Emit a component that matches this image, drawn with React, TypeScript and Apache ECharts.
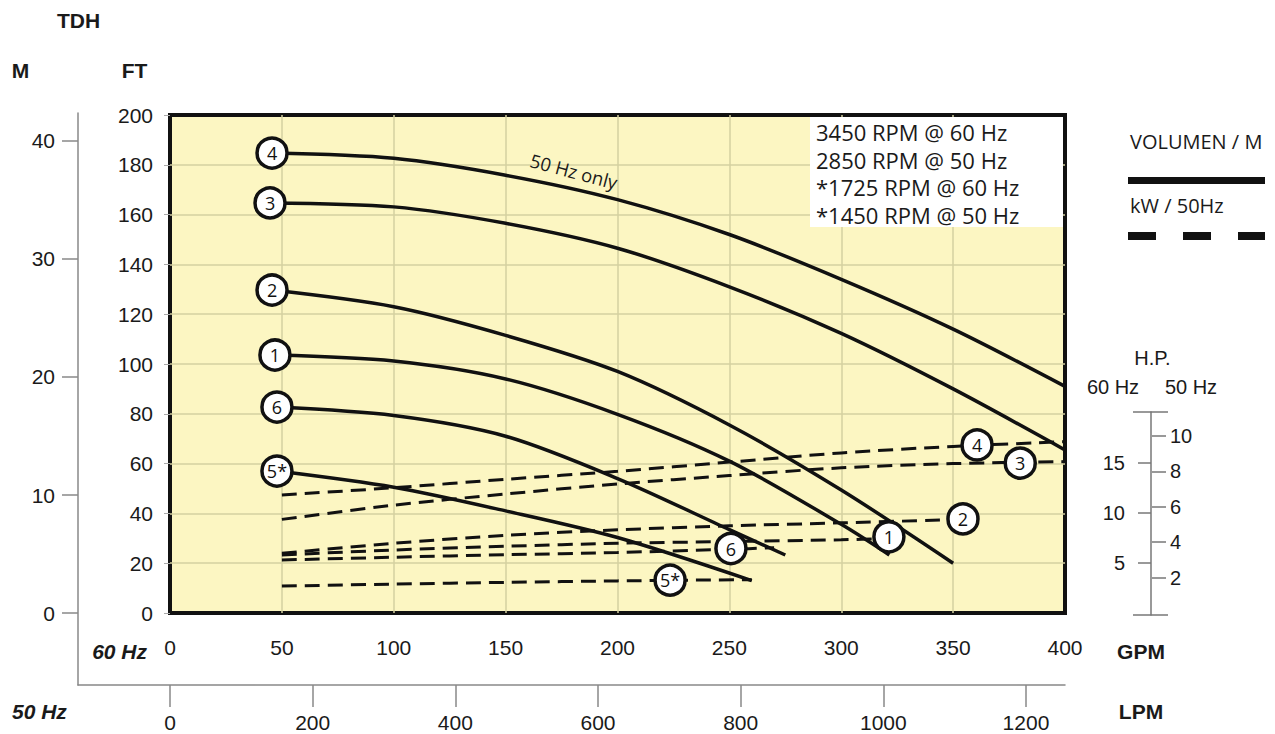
import React, { useEffect, useRef } from "react";
import * as echarts from "echarts";

// ---- data (GPM, FT) ----
const curveNames = ["4", "3", "2", "1", "6", "5*"];

const head4 = [[45.6, 184.7], [100, 182.6], [150, 175.8], [200, 166], [250, 152], [300, 134], [350, 114], [400, 91]];
const head3 = [[44.7, 164.7], [100, 163.1], [150, 156.5], [200, 146.5], [250, 131], [300, 112.3], [350, 90], [400, 65.5]];
const head2 = [[45.6, 129.7], [100, 123], [150, 111.5], [200, 97], [250, 75.5], [300, 49.4], [350, 20]];
const head1 = [[46.9, 103.6], [100, 101.2], [150, 94], [200, 79.8], [250, 61], [300, 35.6], [321.5, 23.3]];
const head6 = [[47.8, 82.7], [100, 79.3], [150, 71], [200, 54], [250, 33.5], [275, 23.3]];
const head5 = [[47.8, 57], [100, 50.5], [150, 41], [200, 30.3], [260, 13]];

const power4 = [[50, 47.4], [100, 50.3], [150, 53.7], [200, 56.9], [250, 60.6], [300, 64.3], [350, 66.9], [400, 68.8]];
const power3 = [[50, 37.6], [100, 43.3], [150, 47.8], [200, 51.8], [250, 55.2], [300, 58.3], [350, 60], [400, 60.8]];
const power2 = [[50, 24], [100, 28], [150, 31.2], [200, 33.4], [250, 35], [300, 36.2], [354, 37.6]];
const power1 = [[50, 23.3], [100, 25.3], [150, 26.8], [200, 28], [250, 28.7], [300, 29.4], [321, 30]];
const power6 = [[50, 21.3], [100, 22.4], [150, 23.4], [200, 24.3], [250, 25.6], [270, 26.2]];
const power5 = [[50, 10.8], [100, 11.6], [150, 12.3], [200, 12.9], [260, 13.4]];

const leftLabelPos = [[45.6, 184.7], [44.7, 164.7], [45.6, 129.7], [46.9, 103.6], [47.8, 82.7], [47.8, 57]];
const rightLabelPos = [[360.7, 67.5], [380, 60.2], [354.4, 37.8], [321.3, 30.6], [250.7, 25.9], [223.5, 13.2]];

const mTicks = [0, 10, 20, 30, 40];
const lpmTicks = [0, 200, 400, 600, 800, 1000, 1200];
const hp60Ticks = [5, 10, 15];
const hp50Ticks = [2, 4, 6, 8, 10];
const rpmLines = ["3450 RPM @ 60 Hz", "2850 RPM @ 50 Hz", "*1725 RPM @ 60 Hz", "*1450 RPM @ 50 Hz"];

const heads = [head4, head3, head2, head1, head6, head5];
const powers = [power4, power3, power2, power1, power6, power5];

const AX = "Liberation Sans, Arial, sans-serif";
const MY = "Open Sans, Noto Sans, sans-serif";
const TXT = "#1a1a1a";

export default function App() {
  const ref = useRef<HTMLDivElement>(null);
  useEffect(() => {
    if (!ref.current) return;
    const chart = echarts.init(ref.current, null, { renderer: "svg" });

    const series: any[] = [];
    heads.forEach((d, i) =>
      series.push({
        type: "line", name: "H" + curveNames[i], xAxisIndex: 0, yAxisIndex: 0, data: d,
        showSymbol: false, smooth: 0.3, silent: true, z: 3,
        lineStyle: { color: "#111", width: 3.5 },
      })
    );
    powers.forEach((d, i) =>
      series.push({
        type: "line", name: "P" + curveNames[i], xAxisIndex: 0, yAxisIndex: 0, data: d,
        showSymbol: false, smooth: 0.3, silent: true, z: 3,
        lineStyle: { color: "#111", width: 3, type: [15, 8] },
      })
    );
    const labelData = [
      ...leftLabelPos.map((p, i) => ({ name: curveNames[i], value: p })),
      ...rightLabelPos.map((p, i) => ({ name: curveNames[i], value: p })),
    ];
    series.push({
      type: "scatter", xAxisIndex: 0, yAxisIndex: 0, data: labelData, symbol: "circle",
      symbolSize: 30, silent: true, z: 6,
      itemStyle: { color: "#fff", borderColor: "#111", borderWidth: 3.5, opacity: 1 },
      label: {
        show: true, position: "inside", formatter: (p: any) => p.name,
        color: "#111", fontSize: 18, fontFamily: MY,
      },
    });

    const graphic: any[] = [
      { type: "rect", z: 1, shape: { x: 810, y: 117, width: 253, height: 110 }, style: { fill: "#fff" } },
      ...rpmLines.map((t, i) => ({
        type: "text", z: 2, x: 816, y: 131.7 + i * 27.8,
        style: { text: t, fontSize: 22, fontFamily: MY, fill: TXT, verticalAlign: "middle", textAlign: "left" },
      })),
      {
        type: "text", z: 4, x: 574, y: 171, rotation: -0.26,
        style: { text: "50 Hz only", fontSize: 18.5, fontFamily: MY, fill: TXT, textAlign: "center", verticalAlign: "middle" },
      },
      { type: "text", x: 1130, y: 141.7, style: { text: "VOLUMEN / M", fontSize: 20, fontFamily: MY, fill: TXT, verticalAlign: "middle" } },
      { type: "line", shape: { x1: 1128, y1: 180.5, x2: 1265, y2: 180.5 }, style: { stroke: "#111", lineWidth: 7 } },
      { type: "text", x: 1130, y: 205.7, style: { text: "kW / 50Hz", fontSize: 20, fontFamily: MY, fill: TXT, verticalAlign: "middle" } },
      { type: "line", shape: { x1: 1128, y1: 236, x2: 1265, y2: 236 }, style: { stroke: "#111", lineWidth: 8, lineDash: [28, 27] } },
      { type: "text", x: 1152.5, y: 358, style: { text: "H.P.", fontSize: 20, fontFamily: AX, fill: TXT, textAlign: "center", verticalAlign: "middle" } },
      { type: "text", x: 1113, y: 387, style: { text: "60 Hz", fontSize: 20, fontFamily: AX, fill: TXT, textAlign: "center", verticalAlign: "middle" } },
      { type: "text", x: 1191, y: 387, style: { text: "50 Hz", fontSize: 20, fontFamily: AX, fill: TXT, textAlign: "center", verticalAlign: "middle" } },
      { type: "line", shape: { x1: 1133, y1: 412, x2: 1168, y2: 412 }, style: { stroke: "#777", lineWidth: 1.5 } },
      { type: "line", shape: { x1: 1133, y1: 615, x2: 1168, y2: 615 }, style: { stroke: "#777", lineWidth: 1.5 } },
      { type: "text", x: 78.5, y: 20.7, style: { text: "TDH", fontSize: 21, fontWeight: "bold", fontFamily: AX, fill: TXT, textAlign: "center", verticalAlign: "middle" } },
      { type: "text", x: 20.5, y: 70, style: { text: "M", fontSize: 21, fontWeight: "bold", fontFamily: AX, fill: TXT, textAlign: "center", verticalAlign: "middle" } },
      { type: "text", x: 134.5, y: 70, style: { text: "FT", fontSize: 21, fontWeight: "bold", fontFamily: AX, fill: TXT, textAlign: "center", verticalAlign: "middle" } },
      { type: "text", x: 147, y: 651, style: { text: "60 Hz", fontSize: 21, fontWeight: "bold", fontStyle: "italic", fontFamily: AX, fill: TXT, textAlign: "right", verticalAlign: "middle" } },
      { type: "text", x: 1141, y: 651.7, style: { text: "GPM", fontSize: 21, fontWeight: "bold", fontFamily: AX, fill: TXT, textAlign: "center", verticalAlign: "middle" } },
      { type: "text", x: 12, y: 711.7, style: { text: "50 Hz", fontSize: 21, fontWeight: "bold", fontStyle: "italic", fontFamily: AX, fill: TXT, textAlign: "left", verticalAlign: "middle" } },
      { type: "text", x: 1141, y: 711.7, style: { text: "LPM", fontSize: 21, fontWeight: "bold", fontFamily: AX, fill: TXT, textAlign: "center", verticalAlign: "middle" } },
    ];

    const labelBase = { color: TXT, fontSize: 21, fontFamily: AX };
    const plain = (v: number) => String(v);
    const grayLine = { show: true, lineStyle: { color: "#888", width: 1.5 }, onZero: false };

    chart.setOption({
      animation: false,
      backgroundColor: "#fff",
      grid: [
        { left: 170, top: 115, width: 895, height: 498, show: true, backgroundColor: "#fcf6c2", borderColor: "#111", borderWidth: 4 },
        { left: 78, top: 685, width: 987, height: 1 },
        { left: 78, top: 113, width: 1, height: 572 },
        { left: 1151, top: 412, width: 1, height: 203 },
      ],
      xAxis: [
        {
          gridIndex: 0, type: "value", min: 0, max: 400, interval: 50,
          axisLine: { show: false }, axisTick: { show: false },
          axisLabel: { ...labelBase, margin: 24, formatter: plain },
          splitLine: { show: true, showMinLine: false, showMaxLine: false, lineStyle: { color: "#d4d0a0", width: 1.5 } },
        },
        {
          gridIndex: 1, type: "value", min: -129, max: 1254.7, position: "top",
          axisLine: grayLine,
          axisTick: { show: true, inside: true, length: 22, customValues: lpmTicks, lineStyle: { color: "#888", width: 1.5 } },
          axisLabel: { ...labelBase, inside: true, margin: 27, customValues: lpmTicks, formatter: plain },
          splitLine: { show: false },
        },
        { gridIndex: 2, type: "value", min: 0, max: 1, show: false },
        { gridIndex: 3, type: "value", min: 0, max: 1, show: false },
      ],
      yAxis: [
        {
          gridIndex: 0, type: "value", min: 0, max: 200, interval: 20,
          axisLine: { show: false },
          axisTick: { show: true, length: 6, lineStyle: { color: "#aaa" } },
          axisLabel: { ...labelBase, margin: 17, formatter: plain },
          splitLine: { show: true, showMinLine: false, showMaxLine: false, lineStyle: { color: "#d4d0a0", width: 1.5 } },
        },
        { gridIndex: 1, type: "value", min: 0, max: 1, show: false },
        {
          gridIndex: 2, type: "value", min: -6.1, max: 42.37, position: "left",
          axisLine: grayLine,
          axisTick: { show: true, length: 16, customValues: mTicks, lineStyle: { color: "#888", width: 1.5 } },
          axisLabel: { ...labelBase, margin: 23, customValues: mTicks, formatter: plain },
          splitLine: { show: false },
        },
        {
          gridIndex: 3, type: "value", min: -0.2, max: 20.1, position: "left",
          axisLine: { show: true, lineStyle: { color: "#777", width: 1.5 }, onZero: false },
          axisTick: { show: true, length: 13, customValues: hp60Ticks, lineStyle: { color: "#777", width: 1.5 } },
          axisLabel: { color: TXT, fontSize: 20, fontFamily: AX, margin: 26, customValues: hp60Ticks, formatter: plain },
          splitLine: { show: false },
        },
        {
          gridIndex: 3, type: "value", min: -0.113, max: 11.356, position: "right",
          axisLine: { show: false, onZero: false },
          axisTick: { show: true, length: 14, customValues: hp50Ticks, lineStyle: { color: "#777", width: 1.5 } },
          axisLabel: { color: TXT, fontSize: 20, fontFamily: AX, margin: 18, customValues: hp50Ticks, formatter: plain },
          splitLine: { show: false },
        },
      ],
      series,
      graphic,
    });
    return () => chart.dispose();
  }, []);
  return <div ref={ref} style={{ position: "fixed", left: 0, top: 0, width: 1275, height: 734 }} />;
}
